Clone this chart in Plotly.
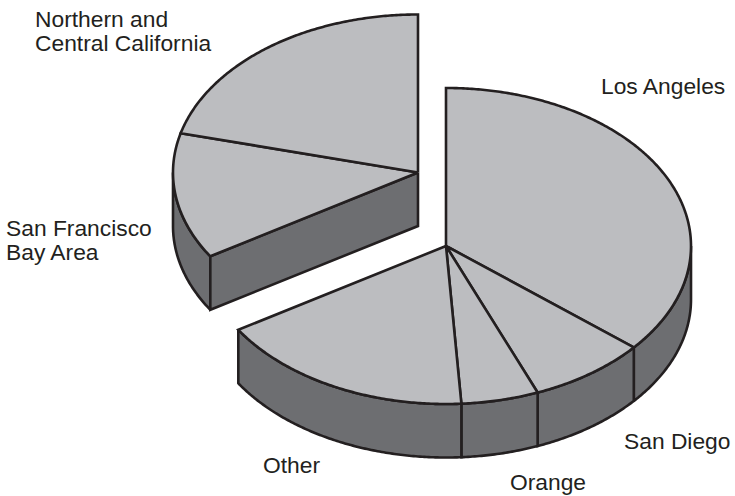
import numpy as np
import plotly.graph_objects as go

# Share of the total for each region, clockwise from twelve o'clock (percent)
regions = ["Los Angeles", "San Diego", "Orange", "Other",
           "San Francisco Bay Area", "Northern and Central California"]
shares = [36.1, 7.8, 5.1, 17.1, 12.9, 21.0]
label_lines = [["Los Angeles"], ["San Diego"], ["Orange"], ["Other"],
               ["San Francisco", "Bay Area"], ["Northern and", "Central California"]]

# Which regions sit on the pulled-out upper wedge
upper_group = [False, False, False, False, True, True]

# Drawing geometry
MAIN_CENTER = (446.0, 246.0)
UPPER_CENTER = (418.0, 172.5)
RX, RY, DEPTH = 245.0, 158.0, 53.5
TOP = "#bcbdc0"
SIDE = "#6d6e71"
INK = "#231f20"
LINE_W = 2.6
FONT_SIZE = 22.8
LABEL_POS = [[(600, 86)], [(623, 441)], [(509, 482)], [(262, 465)],
             [(5, 228), (5, 252)], [(34, 19), (34, 43)]]

fig = go.Figure()


def rim(center, a0, a1, drop=0.0):
    """Points along the pie rim between two angles, clockwise from the top."""
    n = max(int(abs(a1 - a0)) * 2, 2)
    t = np.radians(np.linspace(a0, a1, n))
    return center[0] + RX * np.sin(t), center[1] - RY * np.cos(t) + drop


def add_poly(xs, ys, color):
    fig.add_trace(go.Scatter(
        x=list(xs), y=list(ys), mode="lines", fill="toself", fillcolor=color,
        line=dict(color=INK, width=LINE_W, simplify=False),
        hoverinfo="skip", showlegend=False))


def add_wall(center, a0, a1):
    """Visible outer wall below the rim, limited to the front half of the pie."""
    a0, a1 = max(a0, 90.0), min(a1, 270.0)
    if a1 <= a0:
        return
    tx, ty = rim(center, a0, a1)
    bx, by = rim(center, a1, a0, DEPTH)
    add_poly(np.r_[tx, bx, tx[0]], np.r_[ty, by, ty[0]], SIDE)


def add_top(center, a0, a1):
    tx, ty = rim(center, a0, a1)
    add_poly(np.r_[center[0], tx, center[0]], np.r_[center[1], ty, center[1]], TOP)


edges = np.r_[0.0, np.cumsum(shares)] * 360.0 / sum(shares)
spans = list(zip(edges[:-1], edges[1:]))

# Upper wedge goes first: walls, the exposed cut faces, then the top slices
upper_spans = [s for s, up in zip(spans, upper_group) if up]
start, end = upper_spans[0][0], upper_spans[-1][1]
for a0, a1 in upper_spans:
    add_wall(UPPER_CENTER, a0, a1)
sx, sy = rim(UPPER_CENTER, start, start)
cx, cy = UPPER_CENTER
add_poly([cx, sx[0], sx[0], cx, cx], [cy, sy[0], sy[0] + DEPTH, cy + DEPTH, cy], SIDE)
for a0, a1 in upper_spans:
    add_top(UPPER_CENTER, a0, a1)

# Main pie on top
main_spans = [s for s, up in zip(spans, upper_group) if not up]
for a0, a1 in main_spans:
    add_wall(MAIN_CENTER, a0, a1)
for a0, a1 in main_spans:
    add_top(MAIN_CENTER, a0, a1)

# One annotation per text line keeps the tight leading of the labels
annotations = []
for lines, positions in zip(label_lines, LABEL_POS):
    for text, (x, y) in zip(lines, positions):
        annotations.append(dict(
            x=x, y=y, text=text, xref="x", yref="y", showarrow=False,
            xanchor="left", yanchor="middle", align="left", borderpad=0,
            font=dict(family="Liberation Sans, Arial, sans-serif", size=FONT_SIZE, color=INK)))

fig.update_layout(
    width=735, height=496, margin=dict(l=0, r=0, t=0, b=0),
    paper_bgcolor="white", plot_bgcolor="white", annotations=annotations,
    xaxis=dict(range=[0, 735], visible=False, fixedrange=True),
    yaxis=dict(range=[496, 0], visible=False, fixedrange=True),
)
fig.write_html("out.html", config={"displayModeBar": False})
